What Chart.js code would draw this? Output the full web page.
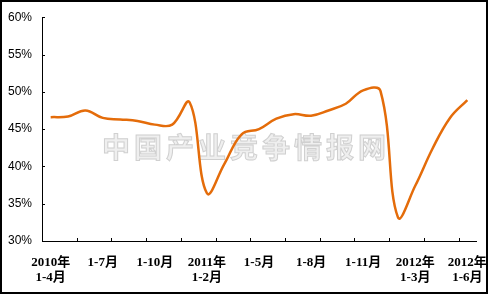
<!DOCTYPE html>
<html>
<head>
<meta charset="utf-8">
<script src="https://cdn.jsdelivr.net/npm/chart.js@4/dist/chart.umd.min.js"></script>
<style>
  html, body { margin: 0; padding: 0; background: #fff; }
  #wrap { width: 489px; height: 296px; position: relative; }
</style>
</head>
<body>
<div id="wrap"><canvas id="myChart" width="489" height="296"></canvas></div>
<script>
// months, 2010 1-4 .. 2012 1-6
var months = [
  ['2010年','1-4月'], '1-5月', '1-6月', '1-7月', '1-8月', '1-9月', '1-10月', '1-11月', '1-12月',
  ['2011年','1-2月'], '1-3月', '1-4月', '1-5月', '1-6月', '1-7月', '1-8月', '1-9月', '1-10月', '1-11月', '1-12月',
  ['2012年','1-2月'], ['2012年','1-3月'], '1-4月', '1-5月', ['2012年','1-6月']
];
var values = [46.6, 46.7, 47.5, 46.5, 46.3, 46.1, 45.6, 45.6, 48.6,
  36.4, 40.3, 44.3, 45.0, 46.4, 47.0, 46.8, 47.5, 48.4, 50.2, 50.1,
  33.2, 37.4, 42.4, 46.5, 48.9];
var yTicks = [30, 35, 40, 45, 50, 55, 60];
var watermark = '中国产业竞争情报网';

var decor = {
  id: 'decor',
  beforeDatasetsDraw: function (chart) {
    var ctx = chart.ctx;
    ctx.save();
    ctx.font = 'bold 28px "Noto Sans CJK SC"';
    ctx.textAlign = 'center';
    ctx.textBaseline = 'middle';
    ctx.fillStyle = '#efefef';
    ctx.strokeStyle = '#d0d0d0';
    ctx.lineWidth = 1;
    for (var k = 0; k < watermark.length; k++) {
      var cx = 116 + k * 32;
      ctx.fillText(watermark[k], cx, 147);
      ctx.strokeText(watermark[k], cx, 147);
    }
    ctx.restore();
  },
  afterDraw: function (chart) {
    var ctx = chart.ctx, xs = chart.scales.x, ys = chart.scales.y;
    var half = (xs.getPixelForValue(1) - xs.getPixelForValue(0)) / 2;
    ctx.save();
    ctx.strokeStyle = '#000';
    ctx.lineWidth = 1;
    ctx.beginPath();
    for (var k = 2; k < months.length; k += 2) {
      var x = Math.round(xs.getPixelForValue(k) - half) + 0.5;
      ctx.moveTo(x, ys.bottom);
      ctx.lineTo(x, ys.bottom - 3);
    }
    yTicks.forEach(function (v) {
      var y = Math.round(ys.getPixelForValue(v)) + 0.5;
      ctx.moveTo(xs.left, y);
      ctx.lineTo(xs.left + 3, y);
    });
    ctx.stroke();
    ctx.lineWidth = 2;
    ctx.strokeRect(1, 1, 486, 292);
    ctx.restore();
  }
};

var ctx = document.getElementById('myChart').getContext('2d');
var myChart = new Chart(ctx, {
  type: 'line',
  data: {
    labels: months,
    datasets: [{
      data: values,
      borderColor: '#E46C0A',
      borderWidth: 2.5,
      pointRadius: 0,
      tension: 0.4,
      fill: false
    }]
  },
  options: {
    responsive: false,
    animation: false,
    layout: { padding: { left: 0, right: 13, top: 6, bottom: 0 } },
    plugins: { legend: { display: false }, tooltip: { enabled: false } },
    scales: {
      x: {
        offset: true,
        grid: { display: false, drawTicks: false },
        border: { color: '#000', width: 1 },
        afterFit: function (s) { s.height = 55; s.paddingLeft = 0; s.paddingRight = 0; },
        ticks: {
          autoSkip: false,
          maxRotation: 0,
          padding: 14,
          color: '#000',
          font: { family: '"Liberation Serif", "Noto Sans CJK SC"', size: 13, weight: 'bold', lineHeight: 1.15 },
          callback: function (v, i) { return i % 3 === 0 ? months[i] : ''; }
        }
      },
      y: {
        min: 30,
        max: 60,
        grid: { display: false, drawTicks: false },
        border: { color: '#000', width: 1 },
        afterFit: function (s) { s.width = 42; },
        ticks: {
          stepSize: 5,
          padding: 10,
          color: '#000',
          font: { family: '"Liberation Sans", Arial', size: 12 },
          callback: function (v) { return v + '%'; }
        }
      }
    }
  },
  plugins: [decor]
});
</script>
</body>
</html>
